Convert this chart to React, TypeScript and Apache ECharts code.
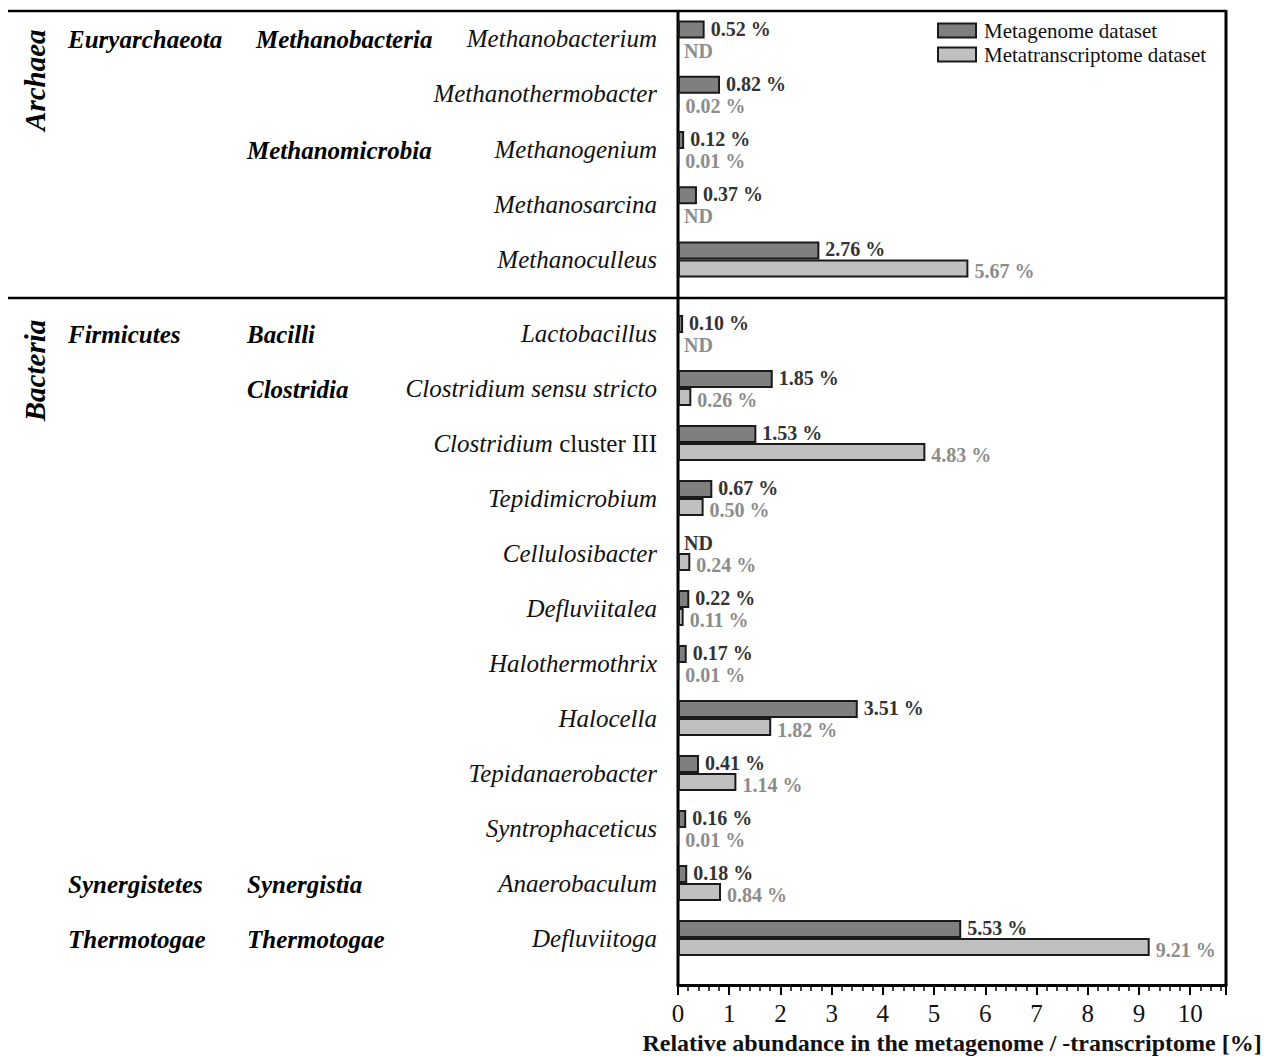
import React, { useEffect, useRef } from "react";
import * as echarts from "echarts";

const archaeaGenera = ["Methanobacterium", "Methanothermobacter", "Methanogenium", "Methanosarcina", "Methanoculleus"];
const archaeaMetagenome = [0.52, 0.82, 0.12, 0.37, 2.76];
const archaeaMetatranscriptome = [null, 0.02, 0.01, null, 5.67];

const bacteriaGenera = [
  "Lactobacillus",
  "Clostridium sensu stricto",
  "Clostridium cluster III",
  "Tepidimicrobium",
  "Cellulosibacter",
  "Defluviitalea",
  "Halothermothrix",
  "Halocella",
  "Tepidanaerobacter",
  "Syntrophaceticus",
  "Anaerobaculum",
  "Defluviitoga",
];
const bacteriaMetagenome = [0.1, 1.85, 1.53, 0.67, null, 0.22, 0.17, 3.51, 0.41, 0.16, 0.18, 5.53];
const bacteriaMetatranscriptome = [null, 0.26, 4.83, 0.5, 0.24, 0.11, 0.01, 1.82, 1.14, 0.01, 0.84, 9.21];

// [label, genus row it sits on, domain index]
const phylumLabels: [string, string, number][] = [
  ["Euryarchaeota", "Methanobacterium", 0],
  ["Firmicutes", "Lactobacillus", 1],
  ["Synergistetes", "Anaerobaculum", 1],
  ["Thermotogae", "Defluviitoga", 1],
];
const classLabels: [string, string, number][] = [
  ["Methanobacteria", "Methanobacterium", 0],
  ["Methanomicrobia", "Methanogenium", 0],
  ["Bacilli", "Lactobacillus", 1],
  ["Clostridia", "Clostridium sensu stricto", 1],
  ["Synergistia", "Anaerobaculum", 1],
  ["Thermotogae", "Defluviitoga", 1],
];
const domainLabels = ["Archaea", "Bacteria"];
const romanSuffix: Record<string, [string, string]> = {
  "Clostridium cluster III": ["Clostridium", "cluster III"],
};

const AXIS_MAX = 10.7;
const FONT = '"Liberation Serif", "Times New Roman", serif';
const DARK = "#7f7f7f";
const LIGHT = "#c0c0c0";
const DARK_TXT = "#333333";
const LIGHT_TXT = "#8c8c8c";

function toData(arr: (number | null)[]) {
  return arr.map((v) =>
    v == null
      ? { value: 0, nd: true, itemStyle: { borderWidth: 0, color: "transparent" } }
      : { value: v }
  );
}

function barSeries(name: string, axis: number, data: (number | null)[], color: string, txt: string, dy: number) {
  return {
    name,
    type: "bar",
    xAxisIndex: axis,
    yAxisIndex: axis,
    data: toData(data),
    barWidth: 18,
    barGap: "0%",
    itemStyle: { color, borderColor: "#1a1a1a", borderWidth: 2 },
    label: {
      show: true,
      position: "right",
      distance: 6,
      offset: [0, dy],
      fontFamily: FONT,
      fontWeight: "bold",
      fontSize: 20,
      color: txt,
      formatter: (p: any) => (p.data && p.data.nd ? "ND" : Number(p.value).toFixed(2) + " %"),
    },
  };
}

function yAxisFor(idx: number, data: string[]) {
  return {
    type: "category",
    gridIndex: idx,
    data,
    inverse: true,
    axisLine: { show: false },
    axisTick: { show: false },
    axisLabel: {
      margin: 21,
      fontFamily: FONT,
      fontSize: 25,
      fontStyle: "italic",
      color: "#111",
      formatter: (v: string) => {
        const r = romanSuffix[v];
        return r ? `{i|${r[0]}} {n|${r[1]}}` : `{i|${v}}`;
      },
      rich: {
        i: { fontFamily: FONT, fontSize: 25, fontStyle: "italic", color: "#111" },
        n: { fontFamily: FONT, fontSize: 25, fontStyle: "normal", color: "#111" },
      },
    },
  };
}

export default function App() {
  const ref = useRef<HTMLDivElement>(null);
  useEffect(() => {
    if (!ref.current) return;
    const chart = echarts.init(ref.current, null, { renderer: "svg" });
    chart.setOption({
      animation: false,
      backgroundColor: "#fff",
      legend: {
        orient: "vertical",
        left: 937,
        top: 20,
        padding: 0,
        itemWidth: 38,
        itemHeight: 14,
        itemGap: 3,
        icon: "rect",
        data: ["Metagenome dataset", "Metatranscriptome dataset"],
        textStyle: { fontFamily: FONT, fontSize: 21, color: "#111", padding: [0, 0, 0, 3] },
      },
      grid: [
        { left: 678, right: 38, top: 11, height: 276, containLabel: false, outerBoundsMode: "none" },
        { left: 678, right: 38, top: 305.5, height: 660, containLabel: false, outerBoundsMode: "none" },
      ],
      xAxis: [
        { type: "value", gridIndex: 0, min: 0, max: AXIS_MAX, interval: 1, show: false },
        {
          type: "value",
          gridIndex: 1,
          min: 0,
          max: AXIS_MAX,
          interval: 1,
          offset: 19.5,
          axisLine: { show: true, lineStyle: { color: "#000", width: 3 } },
          axisTick: { show: true, length: 10, lineStyle: { color: "#000", width: 2 } },
          minorTick: { show: true, splitNumber: 5, length: 6, lineStyle: { color: "#000", width: 1.5 } },
          splitLine: { show: false },
          axisLabel: { fontFamily: FONT, fontSize: 25, color: "#111", margin: 16, showMaxLabel: false },
          name: "Relative abundance in the metagenome / -transcriptome [%]",
          nameLocation: "middle",
          nameGap: 46,
          nameTextStyle: { fontFamily: FONT, fontSize: 24, fontWeight: "bold", color: "#111" },
        },
      ],
      yAxis: [yAxisFor(0, archaeaGenera), yAxisFor(1, bacteriaGenera)],
      series: [
        barSeries("Metagenome dataset", 0, archaeaMetagenome, DARK, DARK_TXT, -1),
        barSeries("Metatranscriptome dataset", 0, archaeaMetatranscriptome, LIGHT, LIGHT_TXT, 3),
        barSeries("Metagenome dataset", 1, bacteriaMetagenome, DARK, DARK_TXT, -1),
        barSeries("Metatranscriptome dataset", 1, bacteriaMetatranscriptome, LIGHT, LIGHT_TXT, 3),
      ],
    });

    const yOf = (axis: number, genus: string) =>
      chart.convertToPixel({ yAxisIndex: axis } as any, genus) as unknown as number;

    const boldItalic = (text: string, x: number, y: number) => ({
      type: "text",
      x,
      y,
      style: {
        text,
        fontFamily: FONT,
        fontSize: 25,
        fontWeight: "bold",
        fontStyle: "italic",
        fill: "#000",
        align: "left",
        verticalAlign: "middle",
      },
    });

    const graphic: any[] = [
      { type: "line", shape: { x1: 8, y1: 11, x2: 1226, y2: 11 }, style: { stroke: "#000", lineWidth: 2.5 } },
      { type: "line", shape: { x1: 8, y1: 298, x2: 1226, y2: 298 }, style: { stroke: "#000", lineWidth: 2.5 } },
      { type: "line", shape: { x1: 678, y1: 10, x2: 678, y2: 986 }, style: { stroke: "#000", lineWidth: 3 } },
      { type: "line", shape: { x1: 1226, y1: 10, x2: 1226, y2: 986 }, style: { stroke: "#000", lineWidth: 3 } },
    ];
    phylumLabels.forEach(([t, g, d]) => graphic.push(boldItalic(t, 68, yOf(d, g) + 1)));
    classLabels.forEach(([t, g, d]) => graphic.push(boldItalic(t, t === "Methanobacteria" ? 256 : 247, yOf(d, g) + 1)));
    const domainY = [
      (yOf(0, archaeaGenera[0]) + yOf(0, archaeaGenera[1])) / 2 + 14,
      (yOf(1, bacteriaGenera[0]) + yOf(1, bacteriaGenera[1])) / 2 + 10,
    ];
    domainLabels.forEach((t, i) =>
      graphic.push({
        type: "text",
        x: 35,
        y: domainY[i],
        rotation: Math.PI / 2,
        style: {
          text: t,
          fontFamily: FONT,
          fontSize: 29,
          fontWeight: "bold",
          fontStyle: "italic",
          fill: "#000",
          align: "center",
          verticalAlign: "middle",
        },
      })
    );
    chart.setOption({ graphic });

    return () => chart.dispose();
  }, []);
  return <div ref={ref} style={{ position: "fixed", left: 0, top: 0, width: 1264, height: 1057 }} />;
}
